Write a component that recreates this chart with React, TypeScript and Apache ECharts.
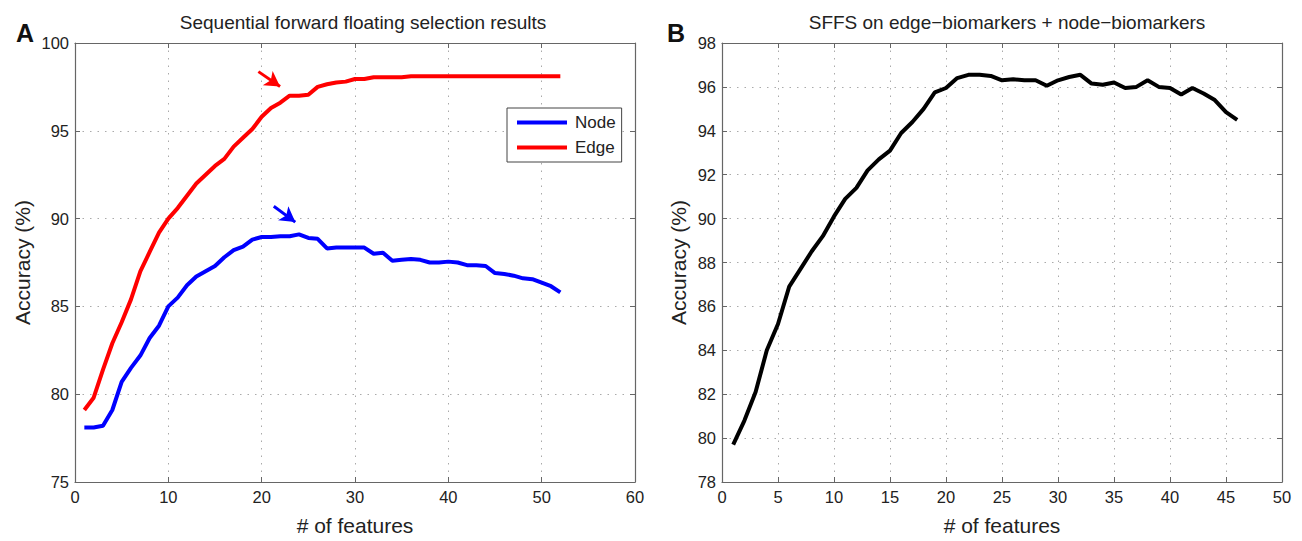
import React, { useEffect, useRef } from "react";
import * as echarts from "echarts";

const nodeAcc = [
  78.1, 78.1, 78.2, 79.1, 80.7, 81.5, 82.2, 83.2, 83.9, 85.0,
  85.5, 86.2, 86.7, 87.0, 87.3, 87.8, 88.2, 88.4, 88.8, 88.95,
  88.95, 89.0, 89.0, 89.1, 88.9, 88.85, 88.3, 88.35, 88.35, 88.35,
  88.35, 88.0, 88.05, 87.6, 87.65, 87.7, 87.65, 87.5, 87.5, 87.55,
  87.5, 87.35, 87.35, 87.3, 86.9, 86.85, 86.75, 86.6, 86.55, 86.35,
  86.15, 85.8,
];
const edgeAcc = [
  79.1, 79.8, 81.4, 82.9, 84.1, 85.4, 87.0, 88.1, 89.2, 90.0,
  90.6, 91.3, 92.0, 92.5, 93.0, 93.4, 94.1, 94.6, 95.1, 95.8,
  96.3, 96.6, 97.0, 97.0, 97.05, 97.5, 97.65, 97.75, 97.8, 97.95,
  97.95, 98.05, 98.05, 98.05, 98.05, 98.1, 98.1, 98.1, 98.1, 98.1,
  98.1, 98.1, 98.1, 98.1, 98.1, 98.1, 98.1, 98.1, 98.1, 98.1,
  98.1, 98.1,
];
const combinedAcc = [
  79.7, 80.8, 82.1, 84.0, 85.2, 86.9, 87.7, 88.5, 89.2, 90.1,
  90.9, 91.4, 92.2, 92.7, 93.1, 93.9, 94.4, 95.0, 95.75, 95.95,
  96.4, 96.55, 96.55, 96.5, 96.3, 96.35, 96.3, 96.3, 96.05, 96.3,
  96.45, 96.55, 96.15, 96.1, 96.2, 95.95, 96.0, 96.3, 96.0, 95.95,
  95.65, 95.95, 95.7, 95.4, 94.85, 94.5,
];
const seriesNames = ["Node", "Edge"];
const titleA = "Sequential forward floating selection results";
const titleB = "SFFS on edge\u2212biomarkers + node\u2212biomarkers";
const xName = "# of features";
const yName = "Accuracy (%)";
// arrows: [x1, y1, x2, y2]
const edgeArrow = [19.65, 98.37, 21.97, 97.52];
const nodeArrow = [21.3, 90.7, 23.6, 89.8];

const toPairs = (arr: number[]) => arr.map((v, i) => [i + 1, v]);

const FONT = "Liberation Sans, Arial, sans-serif";
const AXIS_COLOR = "#666";
const GRID_COLOR = "#aaa";
const TEXT = "#222";

function axisBase(min: number, max: number, interval: number, showLabel: boolean, showSplit: boolean) {
  return {
    type: "value",
    min,
    max,
    interval,
    axisLine: { show: true, onZero: false, lineStyle: { color: AXIS_COLOR, width: 1.2 } },
    axisTick: { show: true, inside: true, length: 5, lineStyle: { color: AXIS_COLOR } },
    axisLabel: { show: showLabel, color: TEXT, fontSize: 16.5, fontFamily: FONT, margin: 6 },
    splitLine: {
      show: showSplit,
      lineStyle: { color: GRID_COLOR, type: [1.5, 6], width: 1 },
    },
  };
}

const nameStyle = { fontSize: 21, color: TEXT, fontFamily: FONT };

export default function App() {
  const ref = useRef<HTMLDivElement>(null);
  useEffect(() => {
    if (!ref.current) return;
    const chart = echarts.init(ref.current, null, { renderer: "svg" });
    const arrowLine = (a: number[], color: string) => ({
      silent: true,
      symbol: ["none", "arrow"],
      symbolSize: [13, 15],
      label: { show: false },
      lineStyle: { color, width: 3, type: "solid" },
      data: [[{ coord: [a[0], a[1]] }, { coord: [a[2], a[3]] }]],
    });
    chart.setOption({
      animation: false,
      backgroundColor: "#fff",
      textStyle: { fontFamily: FONT },
      title: [
        { text: titleA, left: 358, top: 8, textAlign: "center", textStyle: { fontSize: 19, fontWeight: "normal", color: TEXT, fontFamily: FONT } },
        { text: titleB, left: 1002, top: 8, textAlign: "center", textStyle: { fontSize: 19, fontWeight: "normal", color: TEXT, fontFamily: FONT } },
        { text: "A", left: 11, top: 15, textStyle: { fontSize: 25, fontWeight: "bold", color: "#111", fontFamily: FONT } },
        { text: "B", left: 662, top: 15, textStyle: { fontSize: 25, fontWeight: "bold", color: "#111", fontFamily: FONT } },
      ],
      legend: {
        data: seriesNames,
        orient: "vertical",
        left: 507,
        top: 108,
        padding: [6, 6, 6, 10],
        itemGap: 8,
        itemWidth: 50,
        itemHeight: 4,
        icon: "rect",
        borderColor: "#444",
        borderWidth: 1,
        backgroundColor: "#fff",
        textStyle: { fontSize: 17, color: TEXT, fontFamily: FONT, padding: [0, 0, 0, 3] },
      },
      grid: [
        { left: 75, right: 667, top: 43, bottom: 57, containLabel: false },
        { left: 722, right: 20, top: 43, bottom: 57, containLabel: false },
      ],
      xAxis: [
        { ...axisBase(0, 60, 10, true, true), gridIndex: 0, position: "bottom", name: xName, nameLocation: "middle", nameGap: 33, nameTextStyle: nameStyle },
        { ...axisBase(0, 60, 10, false, false), gridIndex: 0, position: "top" },
        { ...axisBase(0, 50, 5, true, true), gridIndex: 1, position: "bottom", name: xName, nameLocation: "middle", nameGap: 33, nameTextStyle: nameStyle },
        { ...axisBase(0, 50, 5, false, false), gridIndex: 1, position: "top" },
      ],
      yAxis: [
        { ...axisBase(75, 100, 5, true, true), gridIndex: 0, position: "left", name: yName, nameLocation: "middle", nameGap: 42, nameTextStyle: nameStyle },
        { ...axisBase(75, 100, 5, false, false), gridIndex: 0, position: "right" },
        { ...axisBase(78, 98, 2, true, true), gridIndex: 1, position: "left", name: yName, nameLocation: "middle", nameGap: 33, nameTextStyle: nameStyle },
        { ...axisBase(78, 98, 2, false, false), gridIndex: 1, position: "right" },
      ],
      series: [
        {
          name: "Node",
          type: "line",
          xAxisIndex: 0,
          yAxisIndex: 0,
          data: toPairs(nodeAcc),
          showSymbol: false,
          lineStyle: { color: "#0000ff", width: 4 },
          itemStyle: { color: "#0000ff" },
          markLine: arrowLine(nodeArrow, "#0000ff"),
        },
        {
          name: "Edge",
          type: "line",
          xAxisIndex: 0,
          yAxisIndex: 0,
          data: toPairs(edgeAcc),
          showSymbol: false,
          lineStyle: { color: "#ff0000", width: 4 },
          itemStyle: { color: "#ff0000" },
          markLine: arrowLine(edgeArrow, "#ff0000"),
        },
        {
          name: "Combined",
          type: "line",
          xAxisIndex: 2,
          yAxisIndex: 2,
          data: toPairs(combinedAcc),
          showSymbol: false,
          lineStyle: { color: "#000", width: 4 },
          itemStyle: { color: "#000" },
        },
      ],
    });
    return () => chart.dispose();
  }, []);
  return (
    <div
      ref={ref}
      style={{ position: "fixed", left: 0, top: 0, width: 1302, height: 541, background: "#fff" }}
    />
  );
}
